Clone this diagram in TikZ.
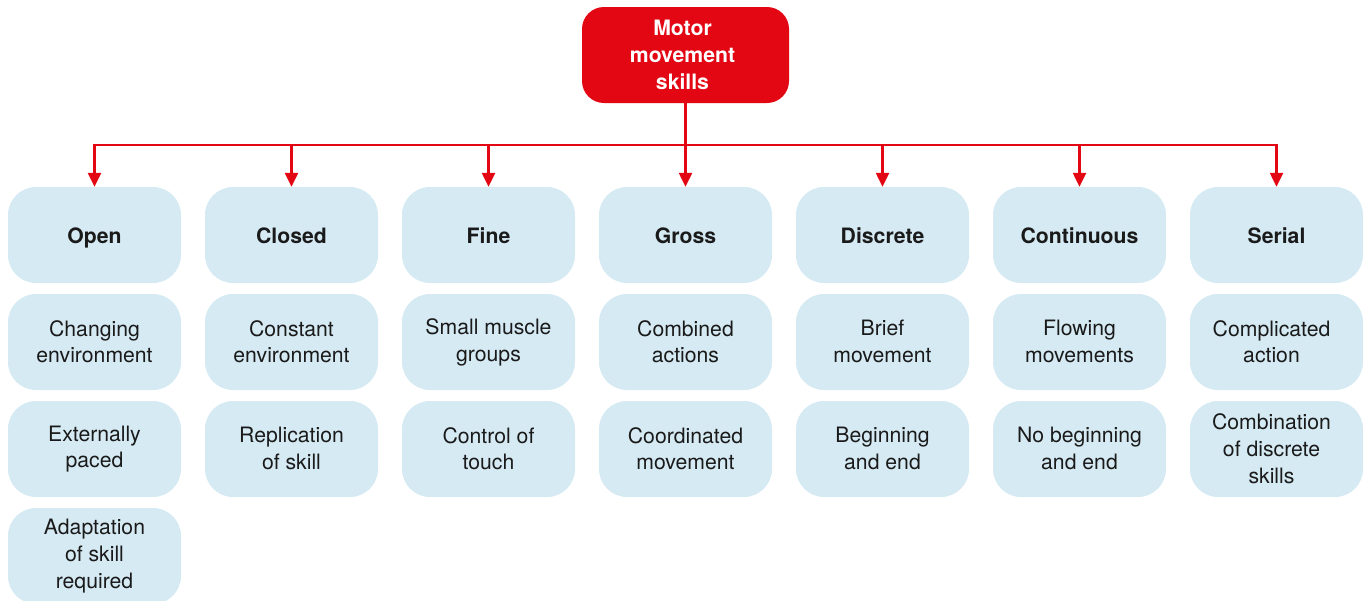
\documentclass[tikz,border=0pt]{standalone}
\usepackage{fontspec}
\setmainfont{TeX Gyre Heros}
\usetikzlibrary{arrows.meta}
\definecolor{skillred}{HTML}{E30613}
\definecolor{skillblue}{HTML}{D5EAF3}
\definecolor{skilltext}{HTML}{1A1A1A}
\tikzset{
  boxtext/.style={align=center, inner sep=0pt},
  rootbox/.style={boxtext, fill=skillred, rounded corners=22pt, minimum width=207pt, minimum height=96pt,
    text=white, font=\fontsize{21.2}{26.8}\selectfont\bfseries,
    execute at begin node={\rule{0pt}{25.8pt}}, execute at end node={\rule[-0.5pt]{0pt}{0.5pt}}},
  headbox/.style={boxtext, fill=skillblue, rounded corners=28pt, minimum width=173pt, minimum height=96pt,
    text=skilltext, font=\fontsize{21.2}{26.8}\selectfont\bfseries,
    execute at begin node={\rule{0pt}{23.8pt}}, execute at end node={\rule[-7pt]{0pt}{7pt}}},
  itembox/.style={boxtext, fill=skillblue, rounded corners=28pt, minimum width=173pt, minimum height=96pt,
    text=skilltext, font=\fontsize{21.2}{26.8}\selectfont,
    execute at begin node={\rule{0pt}{25.8pt}}, execute at end node={\rule[-1pt]{0pt}{1pt}}},
  link/.style={draw=skillred, line width=2.4pt, -{Triangle[width=13pt,length=14pt]}},
  bus/.style={draw=skillred, line width=2.4pt}
}
% pushes a centred line slightly to the left
\newcommand{\lft}{\kern10pt}
\begin{document}
\begin{tikzpicture}[x=1pt,y=-1pt]
\useasboundingbox (0,0) rectangle (1367,600);
\clip (0,0) rectangle (1367,600);

% root of the tree
\node[rootbox] (root) at (685.5,55) {Motor\kern6pt\\movement\kern6pt\\skills\kern6pt};

% column headings
\foreach \i/\name in {0/Open,1/Closed,2/Fine,3/Gross,4/Discrete,5/Continuous,6/Serial}{
  \node[headbox] (h\i) at ({94.5+197*\i},235) {\name};
}

% second row
\node[itembox] (a0) at (94.5,342) {Changing\\environment};
\node[itembox] (a1) at (291.5,342) {Constant\\environment};
\node[itembox] (a2) at (488.5,342) {Small muscle\\groups};
\node[itembox] (a3) at (685.5,342) {Combined\\actions};
\node[itembox] (a4) at (882.5,342) {Brief\\movement};
\node[itembox] (a5) at (1079.5,342) {Flowing\\movements};
\node[itembox] (a6) at (1276.5,342) {Complicated\lft\\action\lft};

% third row
\node[itembox] (b0) at (94.5,449) {Externally\\paced};
\node[itembox] (b1) at (291.5,449) {Replication\\of skill};
\node[itembox] (b2) at (488.5,449) {Control of\\touch};
\node[itembox] (b3) at (685.5,449) {Coordinated\\movement};
\node[itembox] (b4) at (882.5,449) {Beginning\\and end};
\node[itembox] (b5) at (1079.5,449) {No beginning\\and end};
\node[itembox] (b6) at (1276.5,449) {Combination\lft\\of discrete\lft\\skills\lft};

% fourth row
\node[itembox] (c0) at (94.5,556) {Adaptation\\of skill\\required};

% connectors
\coordinate (split) at (root.south |- 0,145);
\draw[link] (root.south) -- (h3.north);
\draw[bus] ([xshift=-1.2pt]h0.north |- split) -- ([xshift=1.2pt]h6.north |- split);
\foreach \i in {0,1,2,4,5,6}{
  \draw[link] (h\i.north |- split) -- (h\i.north);
}
\end{tikzpicture}
\end{document}
